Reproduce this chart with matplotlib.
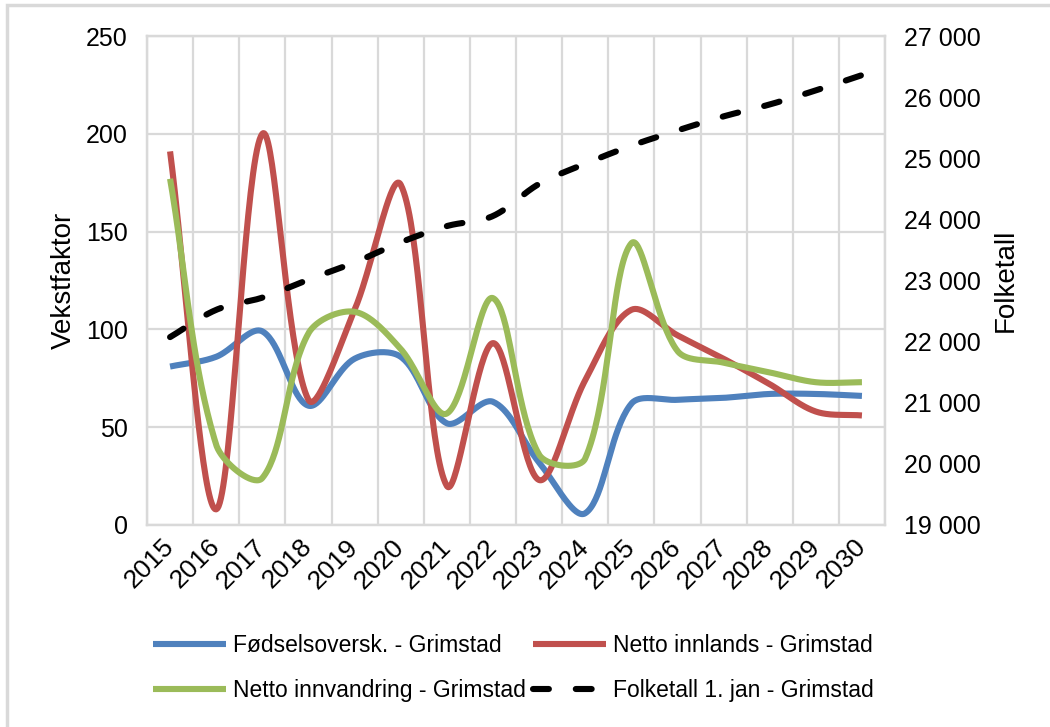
import numpy as np
import matplotlib
matplotlib.use("Agg")
import matplotlib.pyplot as plt
from matplotlib.patches import Rectangle
from matplotlib.ticker import FuncFormatter

years = [str(y) for y in range(2015, 2031)]

fodsel = [81, 86, 99, 61, 85, 86, 52, 63, 32, 6, 62, 64, 65, 67, 67, 66]
innlands = [191, 8, 200, 64, 110, 174, 20, 93, 23, 74, 110, 97, 85, 72, 58, 56]
innvandring = [177, 41, 24, 98, 109, 90, 57, 116, 36, 34, 144, 89, 83, 78, 73, 73]
folketall = [22074, 22520, 22720, 23015, 23295, 23625, 23890, 24055, 24580, 24910,
             25205, 25455, 25685, 25880, 26110, 26360]

labels = ["Fødselsoversk. - Grimstad", "Netto innlands - Grimstad",
          "Netto innvandring - Grimstad", "Folketall 1. jan - Grimstad"]
colors = ["#4F81BD", "#C0504D", "#9BBB59", "#000000"]

# plot area in pixels (figure is 1050 x 727)
L, R, T, B = 147, 885, 36, 525


def smooth(y, ypx, n=40):
    # Excel-like smoothed line: Bezier segments, control arms weighted by
    # screen distance to the neighbouring points
    y = np.asarray(y, dtype=float)
    x = np.arange(len(y), dtype=float)
    sx = (R - L) / len(y)
    p = np.column_stack([x * sx, y * ypx])
    ext = np.vstack([p[0], p, p[-1]])
    cin, cout = [], []
    for i in range(len(p)):
        prev, cur, nxt = ext[i], ext[i + 1], ext[i + 2]
        tan = nxt - prev
        dp = np.hypot(*(cur - prev))
        dn = np.hypot(*(nxt - cur))
        s = dp + dn if dp + dn > 0 else 1.0
        cout.append(cur + tan * dn / s / 3.0)
        cin.append(cur - tan * dp / s / 3.0)
    t = np.linspace(0, 1, n)[:, None]
    out = []
    for i in range(len(p) - 1):
        p0, c1, c2, p3 = p[i], cout[i], cin[i + 1], p[i + 1]
        seg = (1 - t) ** 3 * p0 + 3 * (1 - t) ** 2 * t * c1 + 3 * (1 - t) * t ** 2 * c2 + t ** 3 * p3
        out.append(seg if i == 0 else seg[1:])
    out = np.vstack(out)
    return out[:, 0] / sx, out[:, 1] / ypx


plt.rcParams["font.family"] = ["Liberation Sans", "DejaVu Sans"]
grid_c = "#D9D9D9"

fig = plt.figure(figsize=(10.5, 7.27), dpi=100)
ax = fig.add_axes([L / 1050, 1 - B / 727, (R - L) / 1050, (B - T) / 727])
ax2 = ax.twinx()

lw = 4.4
left_px = (B - T) / 250.0
right_px = (B - T) / 8000.0
h = []
for vals, c in zip([fodsel, innlands, innvandring], colors[:3]):
    xs, ys = smooth(vals, left_px)
    ln, = ax.plot(xs, ys, color=c, lw=lw, solid_capstyle="butt")
    h.append(ln)
xs, ys = smooth(folketall, right_px)
ln, = ax2.plot(xs, ys, color="black", lw=lw, linestyle=(0, (2.6, 4.4)),
               dash_capstyle="round")
h.append(ln)

ax.set_xlim(-0.5, len(years) - 0.5)
ax.set_ylim(0, 250)
ax.set_yticks(range(0, 251, 50))
ax2.set_ylim(19000, 27000)
ax2.set_yticks(range(19000, 27001, 1000))
ax2.yaxis.set_major_formatter(FuncFormatter(lambda v, p: f"{int(v):,}".replace(",", " ")))

ax.set_xticks(range(len(years)))
ax.set_xticklabels(years, rotation=45, ha="right", va="center", rotation_mode="anchor")
ax.set_xticks(np.arange(-0.5, len(years)), minor=True)
ax.grid(True, which="minor", axis="x", color=grid_c, lw=1.6)
ax.grid(True, which="major", axis="y", color=grid_c, lw=1.6)
ax.set_axisbelow(True)

for a in (ax, ax2):
    for s in a.spines.values():
        s.set_color(grid_c)
        s.set_linewidth(1.6)
    a.tick_params(which="both", length=0, labelsize=18)
ax.tick_params(axis="y", pad=14)
ax.tick_params(axis="x", pad=13, labelsize=19)
ax2.tick_params(axis="y", pad=14)

ax.set_ylabel("Vekstfaktor", fontsize=20, labelpad=6)
ax2.set_ylabel("Folketall", fontsize=20, labelpad=8)

fig.legend([h[0], h[2], h[1], h[3]], [labels[0], labels[2], labels[1], labels[3]],
           ncol=2, loc="upper left", bbox_to_anchor=(153 / 1050, 1 - 634 / 727),
           frameon=False, borderpad=0, borderaxespad=0, handlelength=3.2,
           handletextpad=0.3, columnspacing=0.3, labelspacing=0.95,
           prop={"size": 16.5})

fig.add_artist(Rectangle((7 / 1050, -0.1), 1.2, 1.1 - 5 / 727, transform=fig.transFigure,
                         fill=False, ec=grid_c, lw=2.5))

fig.savefig("out.png", dpi=100)
